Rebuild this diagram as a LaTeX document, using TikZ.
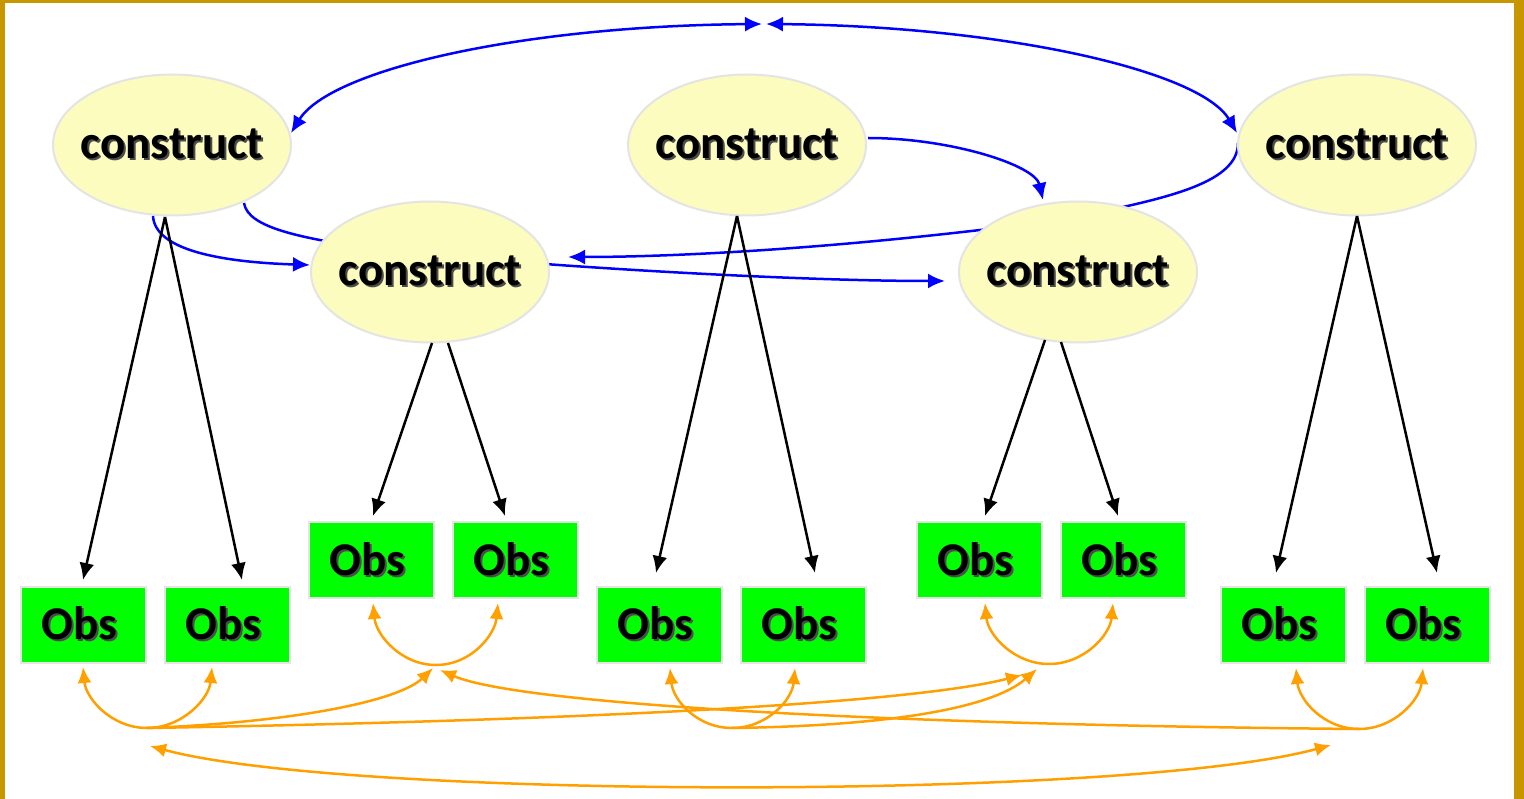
\documentclass[tikz,border=0pt]{standalone}
\usepackage{fontspec}
\setmainfont{Carlito}
\usetikzlibrary{shapes.geometric,arrows.meta,calc}
\pgfdeclarelayer{background}
\pgfdeclarelayer{canvas}
\pgfsetlayers{canvas,background,main}
\definecolor{gold}{RGB}{200,150,0}
\definecolor{pale}{RGB}{252,252,190}
\definecolor{obsgreen}{RGB}{0,255,0}
\definecolor{rim}{RGB}{228,228,228}
\definecolor{orng}{RGB}{255,160,0}
\definecolor{blu}{RGB}{0,0,255}
\newcommand\shadowtxt[1]{\makebox[0pt]{\makebox[0pt][l]{\hspace{2pt}\raisebox{-2.2pt}{\textcolor{black!70}{#1}}}#1}}
\begin{document}
\begin{tikzpicture}[x=1pt,y=-1pt,
  construct/.style={ellipse, fill=pale, draw=rim, line width=2pt, minimum width=238pt, minimum height=141pt, inner sep=0pt, font=\fontsize{47}{50}\selectfont\bfseries},
  obs/.style={rectangle, fill=obsgreen, draw=rim, line width=2pt, minimum width=125pt, minimum height=76pt, inner sep=0pt, font=\fontsize{47}{50}\selectfont\bfseries},
  blk/.style={draw=black, line width=2.5pt, -{Latex[length=17pt,width=15pt]}},
  bluarr/.style={draw=blu, line width=2.5pt, -{Latex[length=17pt,width=15pt]}},
  bluboth/.style={draw=blu, line width=2.5pt, {Latex[length=17pt,width=15pt]}-{Latex[length=17pt,width=15pt]}},
  orarr/.style={draw=orng, line width=2.5pt, -{Latex[length=16pt,width=14pt]}},
  orboth/.style={draw=orng, line width=2.5pt, {Latex[length=16pt,width=14pt]}-{Latex[length=16pt,width=14pt]}},
]
\useasboundingbox (0,0) rectangle (1524,799);
\begin{pgfonlayer}{canvas}
\fill[white] (0,0) rectangle (1524,799);
\fill[gold] (0,0) rectangle (5,799);
\fill[gold] (0,0) rectangle (1524,3);
\fill[gold] (1514,0) rectangle (1524,799);
\end{pgfonlayer}

% constructs
\node[construct] (c1) at (172,145) {\shadowtxt{construct}};
\node[construct] (c2) at (747,145) {\shadowtxt{construct}};
\node[construct] (c3) at (1357,145) {\shadowtxt{construct}};
\node[construct] (c4) at (430,272) {\shadowtxt{construct}};
\node[construct] (c5) at (1078,272) {\shadowtxt{construct}};

% observed
\node[obs] (o1) at (83,624.5) {\hspace{-8pt}\raisebox{-2pt}{\shadowtxt{Obs}}};
\node[obs] (o2) at (227.5,624.5) {\hspace{-8pt}\raisebox{-2pt}{\shadowtxt{Obs}}};
\node[obs] (o3) at (371.5,560) {\hspace{-8pt}\raisebox{-2pt}{\shadowtxt{Obs}}};
\node[obs] (o4) at (515.5,560) {\hspace{-8pt}\raisebox{-2pt}{\shadowtxt{Obs}}};
\node[obs] (o5) at (659,624.5) {\hspace{-8pt}\raisebox{-2pt}{\shadowtxt{Obs}}};
\node[obs] (o6) at (803,624.5) {\hspace{-8pt}\raisebox{-2pt}{\shadowtxt{Obs}}};
\node[obs] (o7) at (979,560) {\hspace{-8pt}\raisebox{-2pt}{\shadowtxt{Obs}}};
\node[obs] (o8) at (1123.5,560) {\hspace{-8pt}\raisebox{-2pt}{\shadowtxt{Obs}}};
\node[obs] (o9) at (1283,624.5) {\hspace{-8pt}\raisebox{-2pt}{\shadowtxt{Obs}}};
\node[obs] (o10) at (1427.5,624.5) {\hspace{-8pt}\raisebox{-2pt}{\shadowtxt{Obs}}};

% free ends
\coordinate (t1) at (762,24);
\coordinate (t2) at (766,24);
\coordinate (m1) at (147,728);
\coordinate (m2) at (436,665);
\coordinate (m3) at (732,728);
\coordinate (m4) at (1049,664);
\coordinate (m5) at (1359,729);

% blue curves passing behind constructs
\begin{pgfonlayer}{background}
\draw[bluarr] ([shift={(-119,-2)}]c3.center) .. controls +(0,42) and +(100,-20) .. ([shift={(-18,-52)}]c5.center)
   .. controls +(-210,28) and +(112,0) .. ([shift={(138,-15)}]c4.center);
\draw[bluarr] ([shift={(72,58)}]c1.center) .. controls +(4,25) and +(-80,-12) .. ([shift={(-50,-22)}]c4.center)
   .. controls +(180,18) and +(-145,0) .. ([shift={(-133,9)}]c5.center);
\end{pgfonlayer}

% other blue curves
\draw[bluboth] (t1) .. controls +(-242,2) and +(39,-63) .. ([shift={(119,-12)}]c1.center);
\draw[bluboth] (t2) .. controls +(234,2) and +(-37,-63) .. ([shift={(-120,-12)}]c3.center);
\draw[bluarr] ([shift={(121,-7)}]c2.center) .. controls +(82,0) and +(-8,-35) .. ([shift={(-35,-72)}]c5.center);
\draw[bluarr] ([shift={(-19,71)}]c1.center) .. controls +(2,34) and +(-90,-3) .. ([shift={(-120,-7)}]c4.center);

% loadings
\draw[blk] ([shift={(-7,72)}]c1.center) -- ([shift={(0,-44.5)}]o1.center);
\draw[blk] ([shift={(-7,72)}]c1.center) -- ([shift={(14.5,-44.5)}]o2.center);
\draw[blk] ([shift={(2,71)}]c4.center) -- ([shift={(1.5,-44)}]o3.center);
\draw[blk] ([shift={(18,71)}]c4.center) -- ([shift={(-10.5,-44)}]o4.center);
\draw[blk] ([shift={(-10,71)}]c2.center) -- ([shift={(-3,-51.5)}]o5.center);
\draw[blk] ([shift={(-10,71)}]c2.center) -- ([shift={(12,-51.5)}]o6.center);
\draw[blk] ([shift={(-33,68)}]c5.center) -- ([shift={(6,-44)}]o7.center);
\draw[blk] ([shift={(-17,70)}]c5.center) -- ([shift={(-5.5,-44)}]o8.center);
\draw[blk] ([shift={(0,71)}]c3.center) -- ([shift={(-7,-51.5)}]o9.center);
\draw[blk] ([shift={(0,71)}]c3.center) -- ([shift={(9.5,-51.5)}]o10.center);

% orange pair arms
\draw[orarr] (m1) .. controls +(-35,0) and +(3,32) .. ([shift={(0,42.5)}]o1.center);
\draw[orarr] (m1) .. controls +(35,0) and +(-3,32) .. ([shift={(-15.5,42.5)}]o2.center);
\draw[orarr] (m2) .. controls +(-35,0) and +(3,32) .. ([shift={(1.5,43)}]o3.center);
\draw[orarr] (m2) .. controls +(35,0) and +(-3,32) .. ([shift={(-17.5,43)}]o4.center);
\draw[orarr] (m3) .. controls +(-35,0) and +(3,32) .. ([shift={(11,43.5)}]o5.center);
\draw[orarr] (m3) .. controls +(35,0) and +(-3,32) .. ([shift={(-8,43.5)}]o6.center);
\draw[orarr] (m4) .. controls +(-35,0) and +(3,32) .. ([shift={(6,43)}]o7.center);
\draw[orarr] (m4) .. controls +(35,0) and +(-3,32) .. ([shift={(-10.5,43)}]o8.center);
\draw[orarr] (m5) .. controls +(-35,0) and +(3,32) .. ([shift={(13,43.5)}]o9.center);
\draw[orarr] (m5) .. controls +(35,0) and +(-3,32) .. ([shift={(-4.5,43.5)}]o10.center);

% orange correlations
\draw[orarr] (m1) .. controls +(153,-6) and +(-33,32) .. ([shift={(-3,3)}]m2);
\draw[orarr] (m1) .. controls +(353,-6) and +(-125,32) .. ([shift={(-27,11)}]m4);
\draw[orarr] (m3) .. controls +(148,-2) and +(-47,41) .. ([shift={(-12,5)}]m4);
\draw[orarr] (m5) .. controls +(-459,-4) and +(80,35) .. ([shift={(4,5)}]m2);
\draw[orboth] ([shift={(3,18)}]m1) .. controls +(200,54) and +(-201,55) .. ([shift={(-28,16)}]m5);
\end{tikzpicture}
\end{document}
